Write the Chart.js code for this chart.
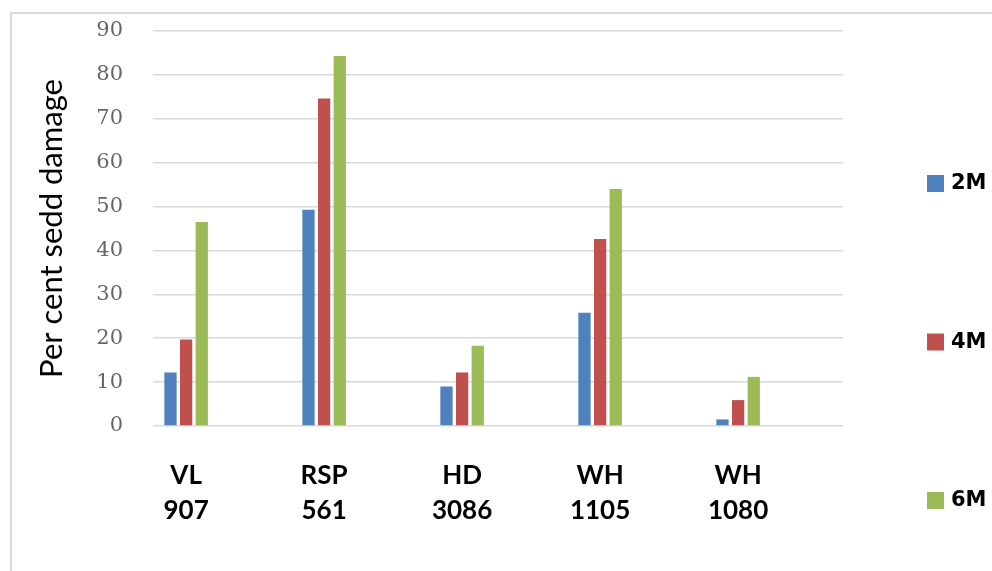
<!DOCTYPE html>
<html>
<head>
<meta charset="utf-8">
<script src="https://cdn.jsdelivr.net/npm/chart.js@4.4.0/dist/chart.umd.min.js"></script>
<style>
  html, body { margin: 0; padding: 0; background: #fff; overflow: hidden; }
  #wrap { position: relative; width: 992px; height: 571px; }
  #frame {
    position: absolute; left: 10px; top: 12px; width: 1000px; height: 600px;
    border-left: 2px solid #d9d9d9; border-top: 2px solid #d9d9d9;
  }
  canvas { position: absolute; left: 0; top: 0; }
</style>
</head>
<body>
<div id="wrap">
  <div id="frame"></div>
  <canvas id="chart" width="992" height="571"></canvas>
</div>
<script>
// Seed damage by storage period
const categories = [['VL', '907'], ['RSP', '561'], ['HD', '3086'], ['WH', '1105'], ['WH', '1080']];
const seriesNames = ['2M', '4M', '6M'];
const values2M = [12.2, 49.3, 9.0, 25.8, 1.5];
const values4M = [19.7, 74.6, 12.2, 42.6, 5.9];
const values6M = [46.5, 84.3, 18.3, 54.0, 11.2];
const yTicks = [0, 10, 20, 30, 40, 50, 60, 70, 80, 90];

const colors = ['#4f81bd', '#c0504d', '#9bbb59'];

// legend drawn by hand so the items can be spread down the right side
const sideLegend = {
    id: 'sideLegend',
    afterDraw(chart, args, opts) {
        const ctx = chart.ctx;
        ctx.save();
        ctx.font = 'bold 21px "DejaVu Sans"';
        ctx.textBaseline = 'middle';
        chart.data.datasets.forEach((ds, i) => {
            const y = opts.top + i * opts.gap;
            ctx.fillStyle = ds.backgroundColor;
            ctx.fillRect(opts.x, y - 8, 17, 17);
            ctx.fillStyle = '#000';
            ctx.fillText(ds.label, opts.x + 24, y + 1);
        });
        ctx.restore();
    }
};

const ctx = document.getElementById('chart');
new Chart(ctx, {
    type: 'bar',
    data: {
        labels: categories,
        datasets: [values2M, values4M, values6M].map((vals, i) => ({
            label: seriesNames[i],
            data: vals,
            backgroundColor: colors[i],
            borderWidth: 0,
            categoryPercentage: 0.34,
            barPercentage: 0.785
        }))
    },
    options: {
        responsive: false,
        animation: false,
        layout: { padding: { top: 31, right: 149, left: 0, bottom: 0 } },
        plugins: {
            legend: { display: false },
            tooltip: { enabled: false },
            sideLegend: { x: 927, top: 183, gap: 158.5 }
        },
        scales: {
            x: {
                grid: { display: false, drawTicks: false },
                border: { display: false },
                ticks: {
                    color: '#000',
                    padding: 32,
                    font: { family: 'Lato', size: 26, weight: 'bold', lineHeight: 1.36 },
                    maxRotation: 0
                },
                // groups sit left of the gridline span, as in the original
                afterBuildTicks: (scale) => { scale._startValue = -0.24; scale._valueRange = 5; },
                afterFit: (scale) => { scale.height = 145; }
            },
            y: {
                min: 0,
                max: 90,
                afterBuildTicks: (scale) => { scale.ticks = yTicks.map(v => ({ value: v })); },
                grid: { color: '#d9d9d9', lineWidth: 1.5, drawTicks: false },
                border: { display: false },
                ticks: {
                    color: '#666666',
                    padding: 30,
                    font: { family: 'DejaVu Serif', size: 21 }
                },
                title: {
                    display: true,
                    text: 'Per cent sedd damage',
                    color: '#000',
                    font: { family: 'Lato', size: 31 },
                    padding: { top: 33, bottom: 0 }
                },
                afterFit: (scale) => {
                    scale.width = 153;
                    // tick padding should not push the plot top down
                    scale.paddingTop = 0;
                    scale.paddingBottom = 0;
                }
            }
        }
    },
    plugins: [sideLegend]
});
</script>
</body>
</html>
